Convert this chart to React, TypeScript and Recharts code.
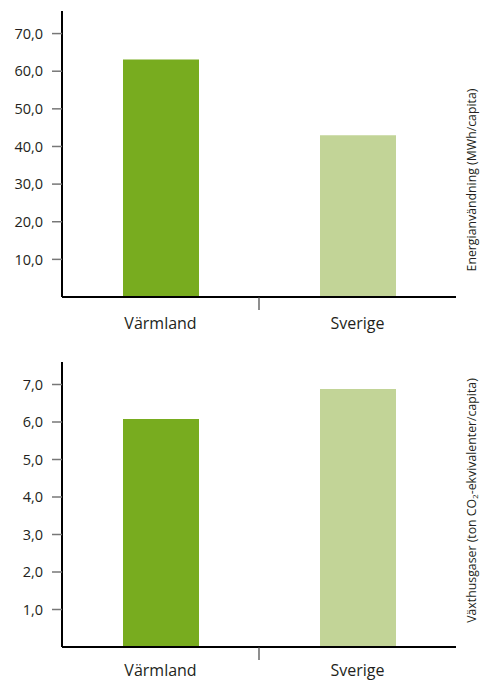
import React from 'react';
import { BarChart, Bar, XAxis, YAxis, Cell } from 'recharts';

const categories = ['Värmland', 'Sverige'];
const energyValues = [63.1, 43.0];
const ghgValues = [6.08, 6.88];
const energyTicks = [10, 20, 30, 40, 50, 60, 70];
const ghgTicks = [1, 2, 3, 4, 5, 6, 7];
const barColors = ['#78ac1f', '#c2d497'];

const energyData = categories.map((c, i) => ({ name: c, value: energyValues[i] }));
const ghgData = categories.map((c, i) => ({ name: c, value: ghgValues[i] }));

const TEXT = '#231f20';
const fmt = (v: number) => v.toFixed(1).replace('.', ',');

const CatTick = (props: any) => {
  const { x, y, payload, index, width, visibleTicksCount, labelDy } = props;
  const half = Number(width) / (2 * visibleTicksCount);
  return (
    <g>
      <text x={x} y={y + labelDy} textAnchor="middle" fill={TEXT} fontSize={16}>
        {payload.value}
      </text>
      {index < visibleTicksCount - 1 && (
        <line x1={x + half} x2={x + half} y1={y} y2={y + 13} stroke="#444" strokeWidth={1.2} />
      )}
    </g>
  );
};

const SideLabel = (props: any) => {
  const { viewBox, shift, co2 } = props;
  const { x, y, width, height } = viewBox;
  const cx = x + width / 2 + 3;
  const cy = y + height / 2 + shift;
  return (
    <text
      x={cx}
      y={cy}
      transform={`rotate(-90 ${cx} ${cy})`}
      textAnchor="middle"
      dominantBaseline="central"
      fontSize={12.3}
      fill={TEXT}
    >
      {co2 ? (
        <>
          <tspan>Växthusgaser (ton CO</tspan>
          <tspan fontSize={8} dy={3}>2</tspan>
          <tspan dy={-3}>-ekvivalenter/capita)</tspan>
        </>
      ) : (
        'Energianvändning (MWh/capita)'
      )}
    </text>
  );
};

const Panel = ({ data, ticks, domain, top, xHeight, shift, co2, labelDy }: any) => (
  <BarChart
    width={480}
    height={341}
    data={data}
    margin={{ top, right: 0, bottom: 0, left: 0 }}
    barCategoryGap={0}
  >
    <XAxis
      dataKey="name"
      height={xHeight}
      axisLine={{ stroke: '#000', strokeWidth: 2 }}
      tickLine={false}
      tickSize={0}
      tickMargin={0}
      tick={<CatTick labelDy={labelDy} />}
      interval={0}
    />
    <YAxis
      width={62}
      domain={domain}
      ticks={ticks}
      type="number"
      allowDataOverflow
      axisLine={{ stroke: '#000', strokeWidth: 2 }}
      tickLine={{ stroke: '#777', strokeWidth: 1.5 }}
      tickSize={10}
      tickMargin={9}
      tickFormatter={fmt}
      tick={{ fill: TEXT, fontSize: 14.5 }}
    />
    <YAxis
      yAxisId="side"
      orientation="right"
      width={24}
      domain={[0, 1]}
      type="number"
      tick={false}
      axisLine={false}
      tickLine={false}
      label={<SideLabel shift={shift} co2={co2} />}
    />
    <Bar dataKey="value" barSize={76} isAnimationActive={false}>
      {data.map((d: any, i: number) => (
        <Cell key={d.name} fill={barColors[i]} />
      ))}
    </Bar>
  </BarChart>
);

export default function App() {
  return (
    <div
      style={{
        position: 'absolute',
        left: 0,
        top: 0,
        width: 480,
        height: 682,
        background: '#fff',
        fontFamily: '"Open Sans", sans-serif',
      }}
    >
      <Panel data={energyData} ticks={energyTicks} domain={[0, 76]} top={11} xHeight={44} shift={26} co2={false} labelDy={32} />
      <Panel data={ghgData} ticks={ghgTicks} domain={[0, 7.6]} top={21} xHeight={35} shift={-4} co2={true} labelDy={29} />
    </div>
  );
}
